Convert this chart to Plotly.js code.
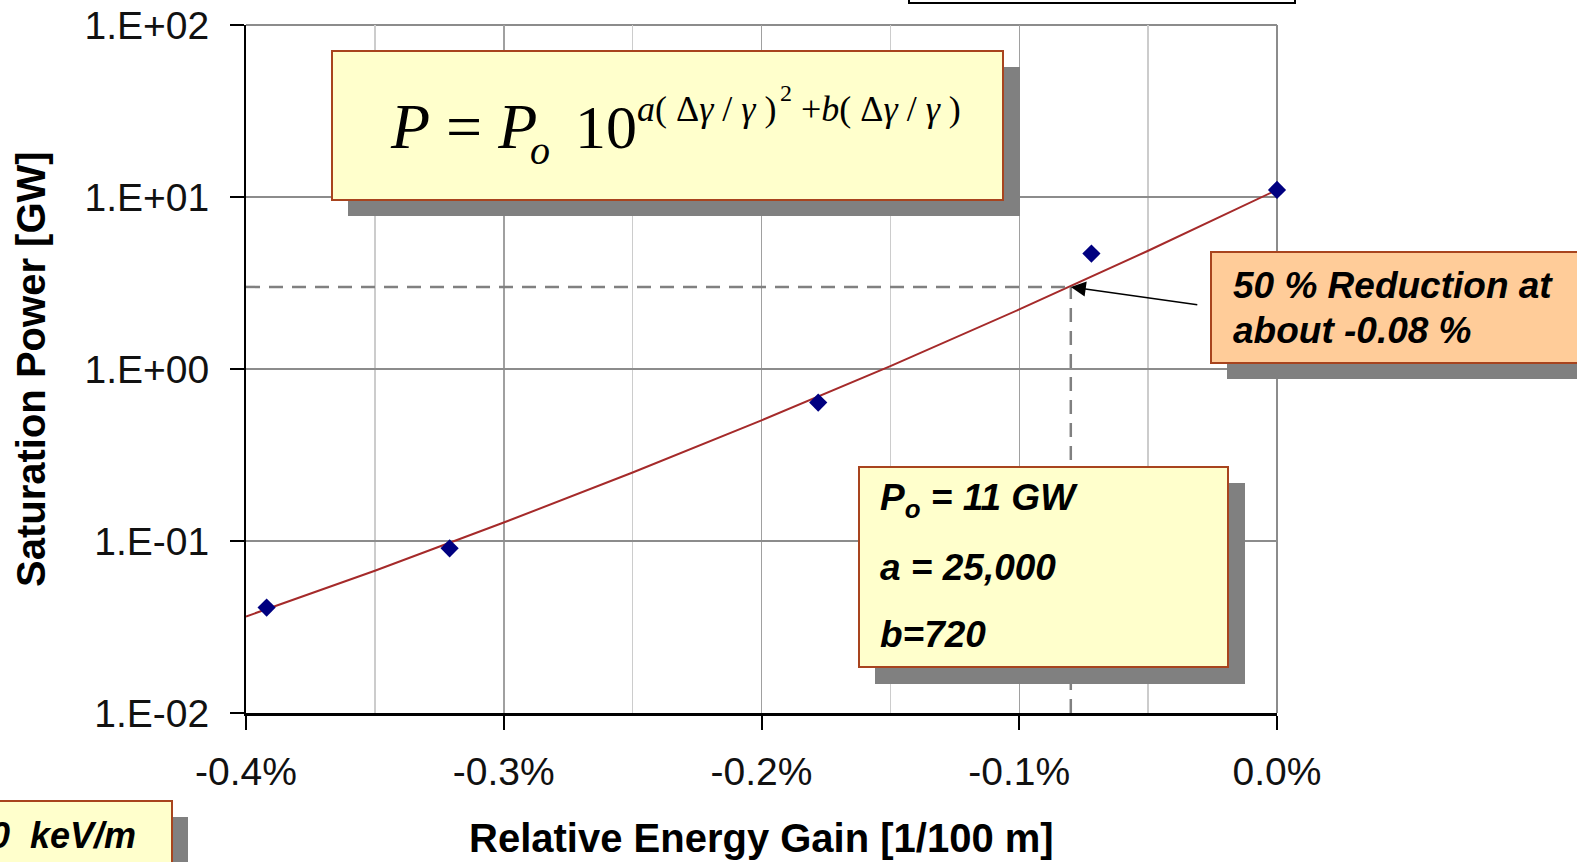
<!DOCTYPE html>
<html>
<head>
<meta charset="utf-8">
<script src="https://cdn.plot.ly/plotly-3.0.1.min.js"></script>
<style>
  html, body { margin: 0; padding: 0; background: #ffffff; overflow: hidden; }
  #chart { width: 1577px; height: 862px; }
</style>
</head>
<body>
<div id="chart"></div>
<script>
// Measured saturation power vs. relative energy gain (%)
const gainPct = [-0.392, -0.321, -0.178, -0.072, 0.0];
const powerGW = [0.041, 0.0906, 0.638, 4.69, 11.0];

// Fitted trend line, sampled across the axis
const fitGainPct = [-0.40, -0.35, -0.30, -0.25, -0.20, -0.15, -0.10, -0.05, 0.0];
const fitPowerGW = [0.0364, 0.0672, 0.128, 0.250, 0.503, 1.04, 2.22, 4.87, 11.0];

// Axis ticks
const xTickVals = [-0.4, -0.3, -0.2, -0.1, 0.0];
const xTickText = ['-0.4%', '-0.3%', '-0.2%', '-0.1%', '0.0%'];
const xMinorVals = [-0.35, -0.25, -0.15, -0.05];
const yTickVals = [0.01, 0.1, 1, 10, 100];
const yTickText = ['1.E-02', '1.E-01', '1.E+00', '1.E+01', '1.E+02'];

// 50 % reduction marker
const halfGainPct = -0.08;
const halfPowerGW = 3.0;

// Page geometry
const W = 1577, H = 862;
const M = { l: 246, r: 300, t: 25, b: 149 };
const PW = W - M.l - M.r, PH = H - M.t - M.b;
const px = v => (v - M.l) / PW;
const py = v => (H - M.b - v) / PH;

const SANS = 'Liberation Sans, Arial, sans-serif';
const SERIF = 'Liberation Serif, Times New Roman, serif';

// Text placed by its left edge (or right edge) and baseline, in page pixels
function label(text, xPx, baseline, size, o) {
  o = o || {};
  const shift = (o.serif ? 0.3375 : 0.3465) * size;
  return {
    xref: 'paper', yref: 'paper',
    x: px(xPx), y: py(baseline - shift),
    xanchor: o.anchor || 'left', yanchor: 'middle',
    showarrow: false, text: text,
    borderpad: 0, borderwidth: 0,
    font: {
      family: o.serif ? SERIF : SANS, size: size, color: '#000000',
      weight: o.bold ? 'bold' : 'normal',
      style: o.italic ? 'italic' : 'normal'
    }
  };
}

function rect(x0, y0, x1, y1, fill, lineColor, lw) {
  return {
    type: 'rect', xref: 'paper', yref: 'paper', layer: 'above',
    x0: px(x0), x1: px(x1), y0: py(y1), y1: py(y0),
    fillcolor: fill,
    line: lineColor ? { color: lineColor, width: lw || 2 } : { width: 0 }
  };
}

const SHADOW = '#808080';
const NOTE = '#FFFFCC';
const PEACH = '#FFCC99';
const EDGE = '#A8441E';

const traces = [
  {
    x: fitGainPct, y: fitPowerGW, type: 'scatter', mode: 'lines',
    line: { color: '#A52A2A', width: 2 },
    cliponaxis: false, hoverinfo: 'skip', showlegend: false
  },
  {
    x: gainPct, y: powerGW, type: 'scatter', mode: 'markers',
    marker: { symbol: 'diamond', size: 14, color: '#000080' },
    cliponaxis: false, showlegend: false
  }
];

const shapes = [
  // plot frame (top and right)
  { type: 'line', xref: 'paper', yref: 'paper', x0: 0, x1: 1, y0: 1, y1: 1,
    line: { color: '#8c8c8c', width: 2 }, layer: 'below' },
  { type: 'line', xref: 'paper', yref: 'paper', x0: 1, x1: 1, y0: 0, y1: 1,
    line: { color: '#8c8c8c', width: 2 }, layer: 'below' },
  // dashed guides to the 50 % point
  { type: 'line', xref: 'x', yref: 'y', x0: -0.4, x1: halfGainPct, y0: halfPowerGW, y1: halfPowerGW,
    line: { color: '#808080', width: 2.5, dash: '14px,9px' }, layer: 'above' },
  { type: 'line', xref: 'x', yref: 'y', x0: halfGainPct, x1: halfGainPct, y0: 0.01, y1: halfPowerGW,
    line: { color: '#808080', width: 2.5, dash: '14px,9px' }, layer: 'above' },
  // formula box
  rect(348, 67, 1020, 216, SHADOW),
  rect(332, 51, 1003, 200, NOTE, EDGE),
  // parameter box
  rect(875, 483, 1245, 684, SHADOW),
  rect(859, 467, 1228, 667, NOTE, EDGE),
  // reduction note
  rect(1227, 268, 1640, 379, SHADOW),
  rect(1211, 252, 1640, 363, PEACH, EDGE),
  // gradient note (lower left)
  rect(-40, 817, 188, 920, SHADOW),
  rect(-40, 801, 172, 920, NOTE, EDGE),
  // legend frame above the plot
  rect(909, -30, 1295, 3, '#ffffff', '#000000', 2)
];

const annotations = [
  // formula
  label('<i>P</i> = <i>P</i>', 390, 148, 64, { serif: true }),
  label('<i>o</i>', 530, 164, 40, { serif: true }),
  label('10', 575, 148, 62, { serif: true }),
  label('<i>a</i>( Δ<i>γ</i> / <i>γ</i> )', 637, 121, 36, { serif: true }),
  label('2', 780, 101, 24, { serif: true }),
  label('+<i>b</i>( Δ<i>γ</i> / <i>γ</i> )', 801, 121, 36, { serif: true }),
  // parameters
  label('P<sub>o</sub> = 11 GW', 880, 513, 37, { bold: true, italic: true }),
  label('a = 25,000', 880, 580, 37, { bold: true, italic: true }),
  label('b=720', 880, 647, 37, { bold: true, italic: true }),
  // reduction note
  label('50 % Reduction at', 1233, 298, 37, { bold: true, italic: true }),
  label('about -0.08 %', 1233, 343, 37, { bold: true, italic: true }),
  // gradient note
  label('0\u00a0 keV/m', 136, 848, 36, { bold: true, italic: true, anchor: 'right' }),
  // axis titles
  Object.assign(label('Relative Energy Gain [1/100 m]', 0, 852, 40, { bold: true }),
    { x: 0.5, xanchor: 'center' }),
  {
    xref: 'paper', yref: 'paper', x: px(31), y: 0.5,
    xanchor: 'center', yanchor: 'middle', textangle: -90,
    showarrow: false, text: 'Saturation Power [GW]', borderpad: 0, borderwidth: 0,
    font: { family: SANS, size: 40, color: '#000000', weight: 'bold' }
  },
  // arrow to the 50 % point
  {
    xref: 'x', yref: 'y', x: halfGainPct, y: Math.log10(halfPowerGW),
    ax: 128, ay: 18, text: ' ', showarrow: true,
    arrowhead: 2, arrowsize: 2, arrowwidth: 1.5, arrowcolor: '#000000',
    standoff: 0, borderpad: 0, borderwidth: 0
  }
];

const layout = {
  width: W, height: H,
  margin: M,
  paper_bgcolor: '#ffffff', plot_bgcolor: '#ffffff',
  showlegend: false,
  xaxis: {
    range: [-0.4, 0.0], type: 'linear',
    tickmode: 'array', tickvals: xTickVals, ticktext: xTickText,
    ticks: 'outside', ticklen: 14, tickwidth: 2, tickcolor: '#000000',
    ticklabelstandoff: 9,
    showline: true, linecolor: '#000000', linewidth: 2.5,
    showgrid: true, gridcolor: '#a0a0a0', gridwidth: 1.5,
    zeroline: false,
    minor: { tickmode: 'array', tickvals: xMinorVals, showgrid: true,
             gridcolor: '#cccccc', gridwidth: 1.5, ticks: '' },
    tickfont: { family: SANS, size: 39, color: '#111111' }
  },
  yaxis: {
    type: 'log', range: [-2, 2],
    tickmode: 'array', tickvals: yTickVals, ticktext: yTickText,
    ticks: 'outside', ticklen: 14, tickwidth: 2, tickcolor: '#000000',
    ticklabelstandoff: 13,
    showline: true, linecolor: '#000000', linewidth: 2,
    showgrid: true, gridcolor: '#8c8c8c', gridwidth: 1.5,
    zeroline: false,
    tickfont: { family: SANS, size: 39, color: '#111111' }
  },
  shapes: shapes,
  annotations: annotations
};

Plotly.newPlot('chart', traces, layout, { displayModeBar: false, staticPlot: true });
</script>
</body>
</html>
